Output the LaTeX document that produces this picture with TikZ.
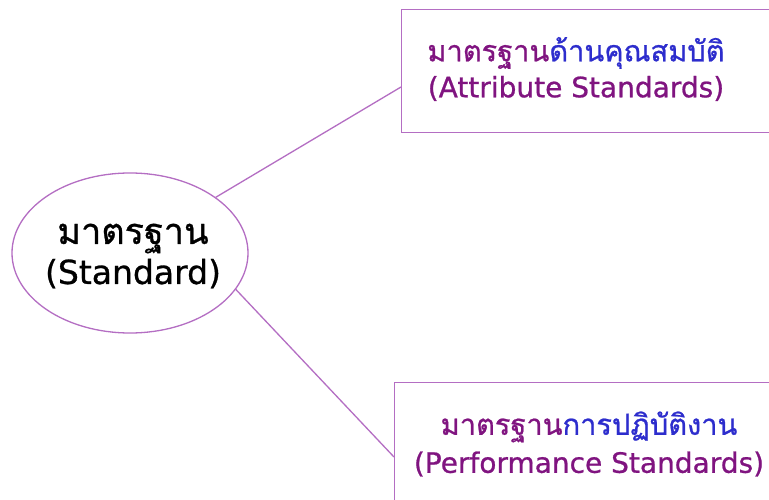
\documentclass[tikz,border=0pt]{standalone}
\usepackage{fontspec}
\setmainfont{DejaVu Sans}[FakeBold=0.8]
\newfontfamily\thai[Script=Thai,FakeBold=0.8]{Loma}
\usetikzlibrary{shapes.geometric}
\definecolor{edgec}{RGB}{180,110,195}
\definecolor{txtp}{RGB}{128,20,128}
\definecolor{txtb}{RGB}{45,45,205}
\tikzset{
  link/.style={draw=edgec, line width=1.3pt},
  rootshape/.style={ellipse, draw=edgec, line width=1.3pt, minimum width=236pt, minimum height=160pt, inner sep=0pt},
  boxshape/.style={rectangle, draw=edgec, line width=1.3pt, anchor=north west, inner sep=0pt},
}
\begin{document}
\begin{tikzpicture}[x=1pt,y=-1pt]
\useasboundingbox (0,0) rectangle (769,500);
\clip (0,0) rectangle (769,500);
\fill[white] (0,0) rectangle (769,500);
\node[rootshape] (std) at (130,253) {};
\node[align=center, font=\fontsize{33}{40}\selectfont, text=black] (stdtxt) at (133,256) {{\thai\fontsize{36}{40}\selectfont มาตรฐาน}\\(Standard)};
\node[boxshape, minimum width=380pt, minimum height=123pt] (attr) at (401,9) {};
\node[boxshape, minimum width=380pt, minimum height=130pt] (perf) at (394,382) {};
\node[align=center, font=\fontsize{28}{36}\selectfont, text=txtp] (attrtxt) at (576,69) {{\thai\fontsize{29}{36}\selectfont มาตรฐาน\textcolor{txtb}{ด้านคุณสมบัติ}}\\(Attribute Standards)};
\node[align=center, font=\fontsize{28}{38}\selectfont, text=txtp] (perftxt) at (589,444) {{\thai\fontsize{29}{38}\selectfont มาตรฐาน\textcolor{txtb}{การปฏิบัติงาน}}\\(Performance Standards)};
\coordinate (a1) at (attr.west |- 0,87);
\coordinate (p1) at (perf.west |- 0,457);
\draw[link] (std.33.4) -- (a1);
\draw[link] (std.-19) -- (p1);
\end{tikzpicture}
\end{document}
